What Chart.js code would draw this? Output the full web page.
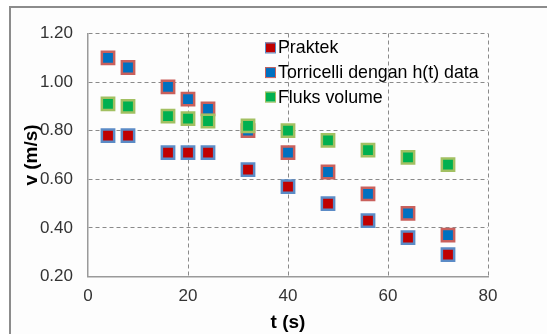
<!DOCTYPE html>
<html>
<head>
<meta charset="utf-8">
<script src="https://cdn.jsdelivr.net/npm/chart.js"></script>
<style>
  body { margin: 0; background: #fff; }
  #frame { position: absolute; left: 9px; top: 6px; width: 600px; height: 400px;
           border-left: 2px solid #8c8c8c; border-top: 2px solid #8c8c8c; background: #fdfdfd; }
  #wrap { position: absolute; left: 0; top: 0; width: 547px; height: 334px; }
</style>
</head>
<body>
<div id="frame"></div>
<div id="wrap"><canvas id="myChart" width="547" height="334"></canvas></div>
<script>
const tValues = [4, 8, 16, 20, 24, 32, 40, 48, 56, 64, 72];
const praktek = [0.78, 0.78, 0.71, 0.71, 0.71, 0.64, 0.57, 0.50, 0.43, 0.36, 0.29];
const torricelli = [1.10, 1.06, 0.98, 0.93, 0.89, 0.80, 0.71, 0.63, 0.54, 0.46, 0.37];
const fluks = [0.91, 0.90, 0.86, 0.85, 0.84, 0.82, 0.80, 0.76, 0.72, 0.69, 0.66];

const seriesNames = ["Praktek", "Torricelli dengan h(t) data", "Fluks volume"];
const fillColors = ["#c00000", "#0070c0", "#00b050"];
const edgeColors = ["#5b8bc6", "#c9605c", "#a2c062"];

const xTicks = [0, 20, 40, 60, 80];
const yTicks = [0.20, 0.40, 0.60, 0.80, 1.00, 1.20];

const font = '"Liberation Sans", Arial, sans-serif';
Chart.defaults.font.family = font;

function pts(ys) {
  return tValues.map((t, i) => ({ x: t, y: ys[i] }));
}

// legend sits inside the plot, top middle, no box
const insideLegend = {
  id: 'insideLegend',
  afterDraw(chart) {
    const ctx = chart.ctx;
    const a = chart.chartArea;
    ctx.save();
    ctx.font = '17.8px ' + font;
    ctx.textBaseline = 'middle';
    chart.data.datasets.forEach((ds, i) => {
      const x = a.left + 177;
      const y = a.top + 14 + i * 24.6;
      ctx.fillStyle = ds.backgroundColor;
      ctx.fillRect(x, y - 5, 10, 10);
      ctx.lineWidth = 1;
      ctx.strokeStyle = ds.borderColor;
      ctx.strokeRect(x + 0.5, y - 4.5, 10, 10);
      ctx.fillStyle = '#000';
      ctx.fillText(ds.label, x + 13, y + 1);
    });
    ctx.restore();
  }
};

const sets = [praktek, torricelli, fluks].map((ys, i) => ({
  label: seriesNames[i],
  data: pts(ys),
  backgroundColor: fillColors[i],
  borderColor: edgeColors[i],
  borderWidth: 2.5,
  pointStyle: 'rect',
  pointRadius: 8.7,
  order: i === 2 ? -1 : i
}));

const gridColor = c => c.index === 0 ? 'rgba(0,0,0,0)' : '#8a8a8a';

new Chart("myChart", {
  type: "scatter",
  data: { datasets: sets },
  plugins: [insideLegend],
  options: {
    responsive: false,
    animation: false,
    layout: { padding: { left: 0, top: 33.5, right: 59, bottom: 0 } },
    plugins: {
      legend: { display: false },
      tooltip: { enabled: false }
    },
    scales: {
      x: {
        min: 0, max: 80,
        afterBuildTicks: s => { s.ticks = xTicks.map(v => ({ value: v })); },
        afterFit: s => { s.height = 57.5; },
        grid: { color: gridColor, lineWidth: 1, drawTicks: false },
        border: { color: '#9a9a9a', width: 1.5, dash: [4, 3] },
        ticks: { color: '#333', font: { size: 17 }, padding: 10, maxRotation: 0 },
        title: { display: true, text: 't (s)', color: '#000', font: { size: 19, weight: 'bold' }, padding: { top: 0, bottom: 0 } }
      },
      y: {
        min: 0.2, max: 1.2,
        afterBuildTicks: s => { s.ticks = yTicks.map(v => ({ value: v })); },
        afterFit: s => { s.width = 88; },
        grid: { color: gridColor, lineWidth: 1, drawTicks: false },
        border: { color: '#9a9a9a', width: 1.5, dash: [4, 3] },
        ticks: { color: '#333', font: { size: 17 }, padding: 15, callback: v => v.toFixed(2) },
        title: { display: true, text: 'v (m/s)', color: '#000', font: { size: 19, weight: 'bold' }, padding: { top: 20, bottom: 0 } }
      }
    }
  }
});
</script>
</body>
</html>
